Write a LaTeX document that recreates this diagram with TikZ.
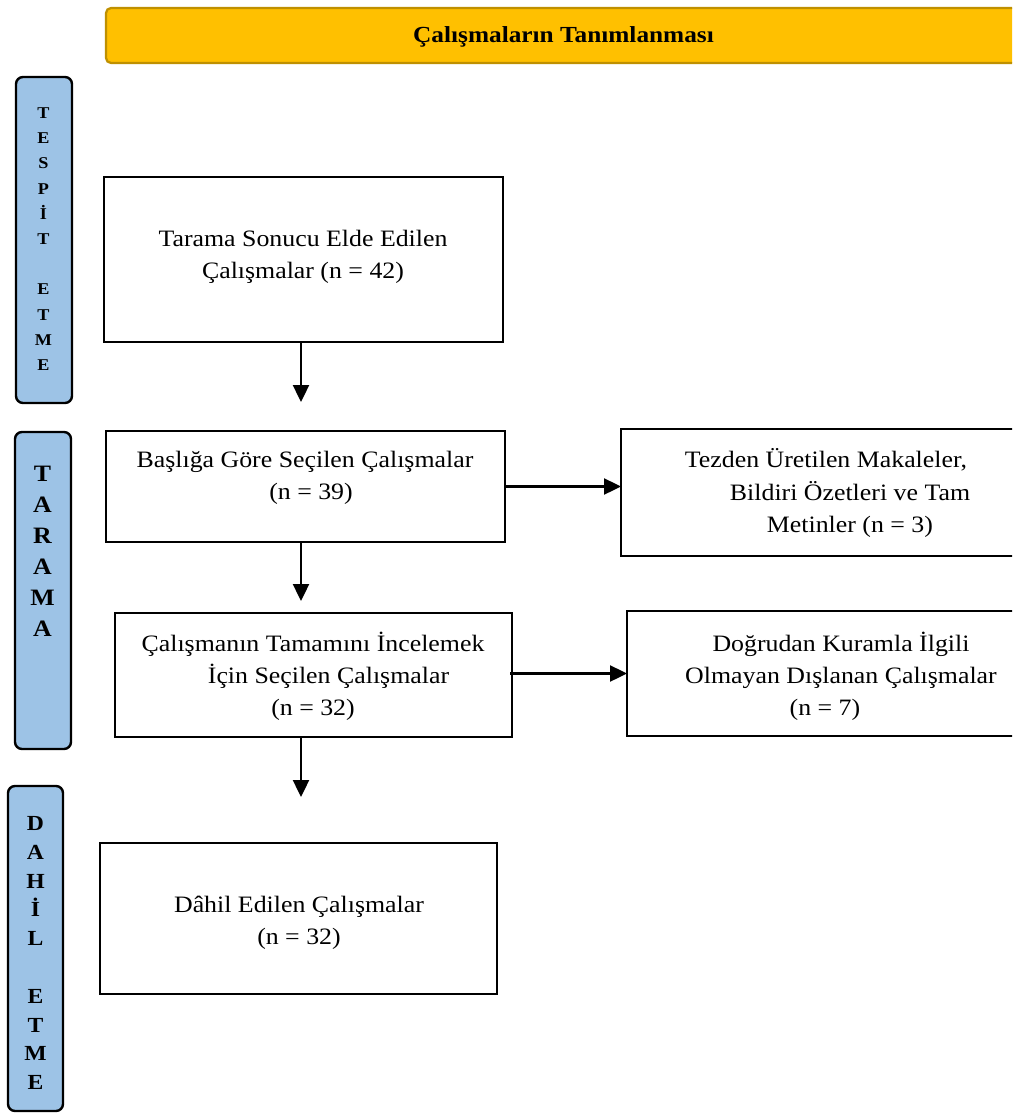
\documentclass[tikz,border=0pt]{standalone}
\usepackage{fontspec}
\setmainfont{Liberation Serif}[FakeStretch=1.1]
\usetikzlibrary{arrows.meta}
\definecolor{hdrfill}{HTML}{FFC000}
\definecolor{hdrline}{HTML}{BF9000}
\definecolor{barfill}{HTML}{9DC3E6}
\begin{document}
\begin{tikzpicture}[x=1pt,y=-1pt,
  box/.style={draw=black, line width=2.6pt, rectangle, inner sep=0pt, outer sep=0pt, anchor=north west, fill=white},
  hdr/.style={draw=hdrline, fill=hdrfill, line width=2.2pt, rounded corners=5pt, rectangle, inner sep=0pt, outer sep=0pt, anchor=north west},
  bar/.style={draw=black, fill=barfill, line width=2.4pt, rounded corners=7pt, rectangle, inner sep=0pt, outer sep=0pt, anchor=north west},
  txt/.style={font=\fontsize{23.5}{32.2}\selectfont, align=center, inner sep=0pt},
  bartxt/.style={align=center, inner sep=0pt},
  arr/.style={line width=2.4pt, -{Triangle[length=17pt,width=16pt]}}]
\useasboundingbox (0,0) rectangle (1012,1113);
\clip (0,0) rectangle (1012,1113);
\fill[white] (0,0) rectangle (1012,1113);
% header
\node[hdr, minimum width=940pt, minimum height=55pt] (hdr) at (106,8) {};
\node[font=\bfseries\fontsize{23}{27}\selectfont, inner sep=0pt] (hdrt) at (563.5,37) {Çalışmaların Tanımlanması};
% side bars
\node[bar, minimum width=56pt, minimum height=326pt] (bar1) at (16,77) {};
\node[bar, minimum width=56pt, minimum height=317pt] (bar2) at (15,432) {};
\node[bar, minimum width=55pt, minimum height=325pt] (bar3) at (8,786) {};
\node[bartxt, font=\bfseries\fontsize{16.5}{25.2}\selectfont] (bar1t) at (43.5,239) {T\\E\\S\\P\\İ\\T\\[25.2pt]E\\T\\M\\E};
\node[bartxt, font=\bfseries\fontsize{23.5}{31}\selectfont] (bar2t) at (42.5,551) {T\\A\\R\\A\\M\\A};
\node[bartxt, font=\bfseries\fontsize{21.5}{28.8}\selectfont] (bar3t) at (35.5,953) {D\\A\\H\\İ\\L\\[28.8pt]E\\T\\M\\E};
% boxes
\node[box, minimum width=399pt, minimum height=165pt] (b1) at (104,177) {};
\node[box, minimum width=399pt, minimum height=111pt] (b2) at (106,431) {};
\node[box, minimum width=420pt, minimum height=127pt] (b3) at (621,429) {};
\node[box, minimum width=397pt, minimum height=124pt] (b4) at (115,613) {};
\node[box, minimum width=420pt, minimum height=125pt] (b5) at (627,611) {};
\node[box, minimum width=397pt, minimum height=151pt] (b6) at (100,843) {};
% texts
\node[txt] (t1) at (303,257) {Tarama Sonucu Elde Edilen\\Çalışmalar (n = 42)};
\node[txt] (t2) at (305,478) {Başlığa Göre Seçilen Çalışmalar\\\hspace*{12pt}(n = 39)};
\node[txt] (t3) at (826,493) {Tezden Üretilen Makaleler,\\\hspace*{48pt}Bildiri Özetleri ve Tam\\\hspace*{48pt}Metinler (n = 3)};
\node[txt] (t4) at (313,676) {Çalışmanın Tamamını İncelemek\\\hspace*{31pt}İçin Seçilen Çalışmalar\\(n = 32)};
\node[txt] (t5) at (841,676) {Doğrudan Kuramla İlgili\\Olmayan Dışlanan Çalışmalar\\\hspace*{-32pt}(n = 7)};
\node[txt] (t6) at (299,923) {Dâhil Edilen Çalışmalar\\(n = 32)};
% arrows
\coordinate (ax) at (301,0);
\draw[arr, shorten >=29pt] (b1.south -| ax) -- (b2.north -| ax);
\draw[arr, shorten >=12pt] (b2.south -| ax) -- (b4.north -| ax);
\draw[arr, shorten >=46pt] (b4.south -| ax) -- (b6.north -| ax);
\draw[arr] (b2.east) -- (b2.east -| b3.west);
\draw[arr] (b4.east |- b5.west) ++(-2,0) -- (b5.west);
\end{tikzpicture}
\end{document}
